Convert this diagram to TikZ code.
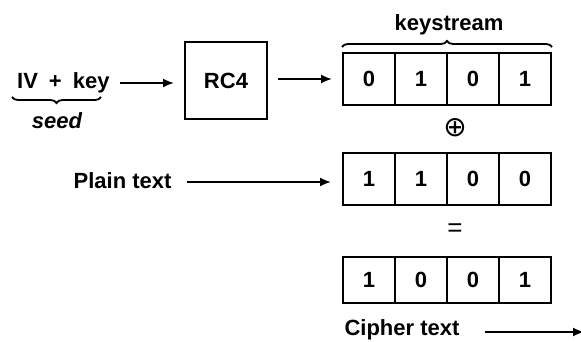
\documentclass[tikz,border=0pt]{standalone}
\usepackage{fontspec}
\setmainfont{Liberation Sans}
\newfontfamily\symfont{DejaVu Sans}
\usetikzlibrary{arrows.meta,decorations.pathreplacing}
\begin{document}
\begin{tikzpicture}[x=1pt,y=-1pt,
  every node/.style={font=\fontsize{22}{26}\selectfont\bfseries},
  cell/.style={draw,line width=2pt,minimum width=52pt,minimum height=52pt,inner sep=0pt},
  conn/.style={line width=1.8pt,-{Latex[length=11pt,width=9pt]}},
  brc/.style={decorate,decoration={brace,amplitude=6pt},line width=1.8pt}]
\useasboundingbox (0,0) rectangle (581,342);
\node[anchor=west,inner sep=0pt] (iv) at (17,83) {IV\enspace+\enspace key};
\node[draw,line width=2pt,minimum width=82pt,minimum height=77pt] (rc4) at (226,80.5) {RC4};
\node[font=\fontsize{22}{26}\selectfont\bfseries\itshape] (seed) at (57,121) {seed};
\draw[brc,decoration={mirror}] (12,97) -- (101,97);
\coordinate (ivs) at (120,83);
\draw[conn] (ivs) -- ([xshift=-10pt]rc4.west |- ivs);
\foreach \i/\v in {1/0,2/1,3/0,4/1} \node[cell] (k\i) at (317+52*\i,79) {\v};
\foreach \i/\v in {1/1,2/1,3/0,4/0} \node[cell] (p\i) at (317+52*\i,179) {\v};
\foreach \i/\v in {1/1,2/0,3/0,4/1} \node[cell,minimum height=46pt] (c\i) at (317+52*\i,280) {\v};
\draw[brc] (k1.north west) ++(0,-5) coordinate (b1) -- (k4.north east |- b1) coordinate (b2);
\node (ks) at (449,25) {keystream};
\node[font=\symfont\fontsize{28}{32}\selectfont] (xor) at (455,128) {⊕};
\node[font=\fontsize{26}{30}\selectfont] (eq) at (455,230) {=};
\coordinate (rs) at ([xshift=10pt]rc4.east |- k1.west);
\draw[conn] (rs) -- ([xshift=-10pt]k1.west);
\node[anchor=east] (pt) at (175,181) {Plain text};
\coordinate (ps) at ([xshift=12pt]pt.east |- 0,182);
\draw[conn] (ps) -- ([xshift=-11pt]p1.west |- ps);
\node[anchor=west] (ct) at (341,330) {Cipher text};
\coordinate (ce) at (584,332);
\draw[conn] ([xshift=22pt]ct.east |- ce) -- (ce);
\end{tikzpicture}
\end{document}
